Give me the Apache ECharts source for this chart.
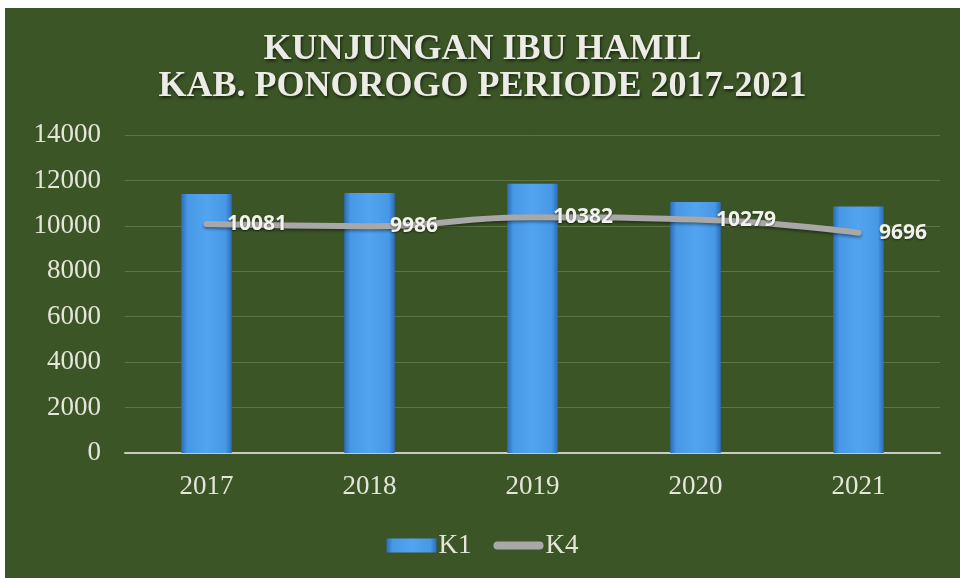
<!DOCTYPE html>
<html>
<head>
<meta charset="utf-8">
<script src="https://cdn.jsdelivr.net/npm/echarts@6/dist/echarts.min.js"></script>
<style>
  html, body { margin: 0; padding: 0; background: #ffffff; }
  #chart { position: absolute; left: 5px; top: 8px; width: 955px; height: 570px; background: #3c5526; }
</style>
</head>
<body>
<div id="chart"></div>
<script>
// data
const years = ["2017", "2018", "2019", "2020", "2021"];
const k1 = [11400, 11450, 11850, 11050, 10850];
const k4 = [10081, 9986, 10382, 10279, 9696];

let dom = document.getElementById("chart");
let myChart = echarts.init(dom, null, { renderer: "canvas" });

const serif = "'Liberation Serif', 'DejaVu Serif', serif";
const textColor = "#e4e6da";

const barColor = new echarts.graphic.LinearGradient(0, 0, 1, 0, [
  { offset: 0, color: "#2c6cb8" },
  { offset: 0.12, color: "#4798e6" },
  { offset: 0.5, color: "#52a4f0" },
  { offset: 0.88, color: "#4798e6" },
  { offset: 1, color: "#2c6cb8" },
]);

let option = {
  animation: false,
  title: {
    text: "KUNJUNGAN IBU HAMIL\nKAB. PONOROGO PERIODE 2017-2021",
    left: "center",
    top: 18,
    textStyle: {
      fontFamily: serif,
      fontWeight: "bold",
      fontSize: 36,
      lineHeight: 37,
      color: "#ecece6",
      textShadowColor: "rgba(0,0,0,0.6)",
      textShadowBlur: 3,
      textShadowOffsetX: 1,
      textShadowOffsetY: 2,
    },
  },
  legend: {
    bottom: 14,
    left: "center",
    itemGap: 22,
    itemWidth: 50,
    itemHeight: 14,
    textStyle: { fontFamily: serif, fontSize: 27, color: textColor, padding: [0, 0, 0, -3] },
    data: [
      { name: "K1", icon: "rect" },
      { name: "K4", icon: "path://M4,0 L46,0 A4,4 0 0 1 46,8 L4,8 A4,4 0 0 1 4,0 Z" },
    ],
  },
  grid: { left: 120, right: 20, top: 127, bottom: 125 },
  xAxis: {
    type: "category",
    data: years,
    axisTick: { show: false },
    axisLine: { lineStyle: { color: "#c9cbc0", width: 2 } },
    axisLabel: { fontFamily: serif, fontSize: 27, color: textColor, margin: 20 },
  },
  yAxis: {
    type: "value",
    min: 0,
    max: 14000,
    interval: 2000,
    axisLine: { show: false },
    axisTick: { show: false },
    axisLabel: {
      fontFamily: serif,
      fontSize: 27,
      color: textColor,
      margin: 24,
      formatter: function (v) { return String(v); },
    },
    splitLine: { lineStyle: { color: "#5d7546", width: 1 } },
  },
  series: [
    {
      name: "K1",
      type: "bar",
      data: k1,
      barWidth: "31%",
      itemStyle: { color: barColor },
    },
    {
      name: "K4",
      type: "line",
      data: k4,
      smooth: true,
      symbol: "circle",
      symbolSize: 1,
      itemStyle: { color: "#a8a8a8" },
      lineStyle: {
        color: "#a8a8a8",
        width: 6,
        cap: "round",
        shadowColor: "rgba(0,0,0,0.4)",
        shadowBlur: 3,
        shadowOffsetY: 2,
      },
      label: {
        show: true,
        position: "right",
        distance: 20,
        fontFamily: "'Open Sans', 'Noto Sans', sans-serif",
        fontWeight: "bold",
        fontSize: 21,
        color: "#f2f2ee",
        textShadowColor: "rgba(0,0,0,0.5)",
        textShadowBlur: 2,
        textShadowOffsetY: 1,
      },
    },
  ],
};

myChart.setOption(option);

window.addEventListener("resize", function () {
  myChart.resize();
});
</script>
</body>
</html>
